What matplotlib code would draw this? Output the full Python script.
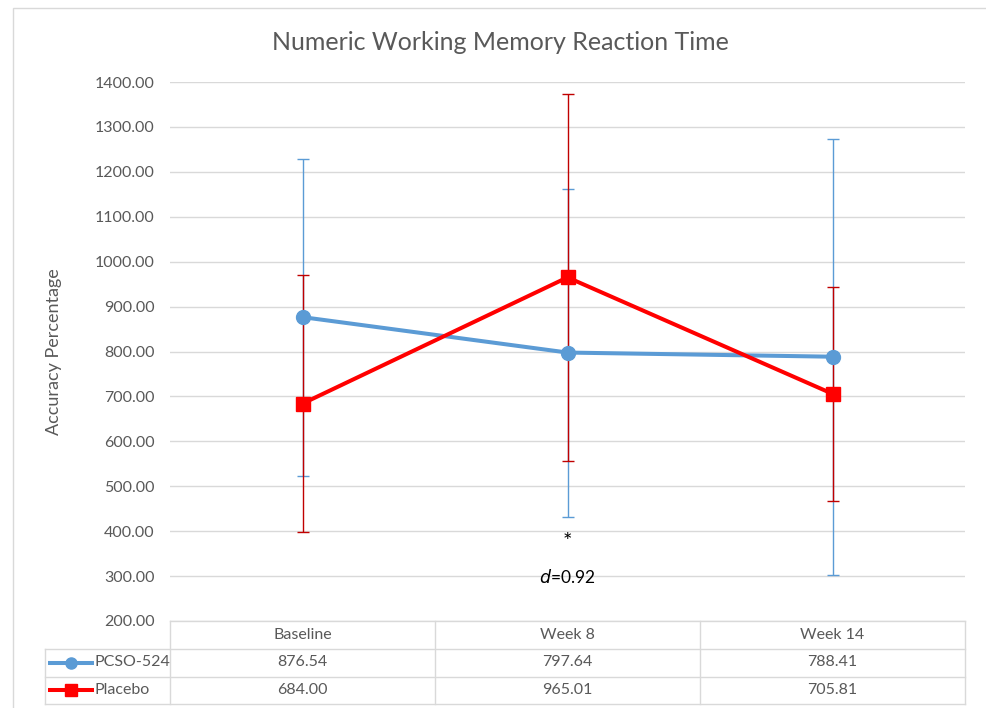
import matplotlib
matplotlib.use('Agg')
import matplotlib.pyplot as plt
from matplotlib.lines import Line2D
from matplotlib.patches import Rectangle

# --- data ---
categories = ['Baseline', 'Week 8', 'Week 14']
series_names = ['PCSO-524', 'Placebo']
pcso_mean = [876.54, 797.64, 788.41]
pcso_sd = [352.7, 365.0, 485.0]
placebo_mean = [684.00, 965.01, 705.81]
placebo_sd = [285.6, 409.0, 238.0]
y_ticks = [200, 300, 400, 500, 600, 700, 800, 900, 1000, 1100, 1200, 1300, 1400]

W, H = 986, 708
plt.rcParams['font.family'] = ['Lato', 'DejaVu Sans']
GRAY = '#595959'
GRID = '#D9D9D9'
BLUE = '#5B9BD5'
RED = '#FF0000'
DARKRED = '#C00000'


def fx(px):
    return px / W


def fy(py):
    return (H - py) / H


fig = plt.figure(figsize=(W / 100, H / 100), dpi=100)

# outer chart border
fig.add_artist(Rectangle((fx(13), fy(720)), fx(1000) - fx(13), fy(8) - fy(720),
                         transform=fig.transFigure, fill=False, ec=GRID, lw=1))

left, right, top, bottom = 170, 965, 82, 621
ax = fig.add_axes([fx(left), fy(bottom), fx(right) - fx(left), fy(top) - fy(bottom)])
x = [i + 0.5 for i in range(len(categories))]

ax.errorbar(x, pcso_mean, yerr=pcso_sd, fmt='none', ecolor=BLUE, elinewidth=1,
            capsize=4, capthick=1, zorder=2)
ax.errorbar(x, placebo_mean, yerr=placebo_sd, fmt='none', ecolor=DARKRED, elinewidth=1,
            capsize=4, capthick=1, zorder=3)
ax.plot(x, pcso_mean, color=BLUE, lw=2.9, marker='o', ms=10, zorder=4)
ax.plot(x, placebo_mean, color=RED, lw=2.9, marker='s', ms=10, zorder=5)

ax.set_xlim(0, len(categories))
ax.set_ylim(y_ticks[0], y_ticks[-1])
ax.set_yticks(y_ticks)
ax.set_yticklabels([f'{v:.2f}' for v in y_ticks], color=GRAY, fontsize=11.5)
ax.set_xticks([])
ax.tick_params(axis='y', length=0, pad=11)
ax.grid(axis='y', color=GRID, lw=1)
ax.set_axisbelow(True)
for s in ax.spines.values():
    s.set_visible(False)
ax.set_ylabel('Accuracy Percentage', color=GRAY, fontsize=13, labelpad=24)

ax.text(x[1], 376, '*', ha='center', va='center', fontsize=16, color='black')
ax.text(x[1], 298, r'$\it{d}$=0.92', ha='center', va='center', fontsize=12.5, color='black')

fig.text(fx(500), fy(42), 'Numeric Working Memory Reaction Time', ha='center',
         va='center', fontsize=18, color=GRAY)

# --- data table below the plot ---
col_edges = [170, 435, 700, 965]
row_edges = [621, 648.5, 676.5, 704]


def hline(py, x0, x1):
    fig.add_artist(Line2D([fx(x0), fx(x1)], [fy(py), fy(py)], color=GRID, lw=1,
                          transform=fig.transFigure))


def vline(px, y0, y1):
    fig.add_artist(Line2D([fx(px), fx(px)], [fy(y0), fy(y1)], color=GRID, lw=1,
                          transform=fig.transFigure))


hline(row_edges[0], 170, 965)
for r in row_edges[1:]:
    hline(r, 45, 965)
for c in col_edges:
    vline(c, row_edges[0], row_edges[-1])
vline(45, row_edges[1], row_edges[-1])

for i, cat in enumerate(categories):
    cx = (col_edges[i] + col_edges[i + 1]) / 2
    fig.text(fx(cx), fy((row_edges[0] + row_edges[1]) / 2), cat, ha='center',
             va='center', fontsize=11.5, color=GRAY)

rows = [(series_names[0], pcso_mean, BLUE, 'o'), (series_names[1], placebo_mean, RED, 's')]
for j, (name, vals, col, mk) in enumerate(rows):
    cy = (row_edges[j + 1] + row_edges[j + 2]) / 2
    fig.add_artist(Line2D([fx(50), fx(92)], [fy(cy), fy(cy)], color=col, lw=2.9,
                          transform=fig.transFigure))
    fig.add_artist(Line2D([fx(71)], [fy(cy)], color=col, marker=mk, ms=8,
                          transform=fig.transFigure))
    fig.text(fx(94), fy(cy), name, ha='left', va='center', fontsize=11.5, color=GRAY)
    for i, v in enumerate(vals):
        cx = (col_edges[i] + col_edges[i + 1]) / 2
        fig.text(fx(cx), fy(cy), f'{v:.2f}', ha='center', va='center',
                 fontsize=11.5, color=GRAY)

plt.savefig('out.png', dpi=100)
plt.close()
